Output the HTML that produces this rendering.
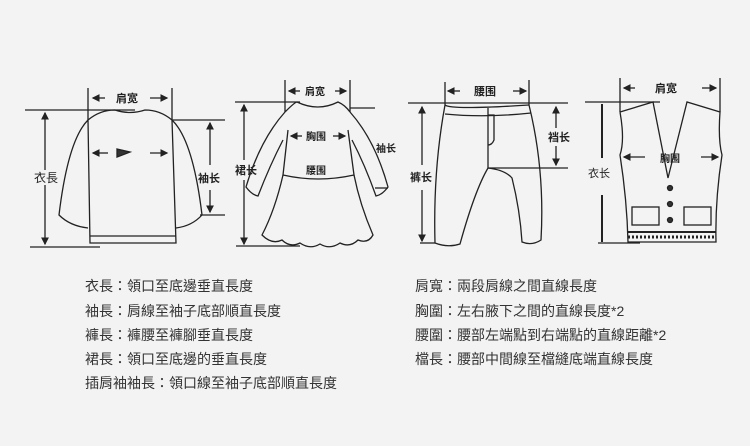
<!DOCTYPE html>
<html><head><meta charset="utf-8"><style>
html,body{margin:0;padding:0;background:#f3f3f3;}
body{width:750px;height:446px;position:relative;overflow:hidden;font-family:"Liberation Sans","Noto Sans CJK TC",sans-serif;}
.t{position:absolute;font-size:14px;color:#333;white-space:nowrap;line-height:16px;}
</style></head><body>
<svg width="750" height="446" style="position:absolute;left:0;top:0" fill="none" stroke="#222" stroke-width="1.3" font-family="Liberation Sans, Noto Sans CJK SC, sans-serif">
<defs><marker id="a" markerWidth="6" markerHeight="6" refX="5" refY="3" orient="auto"><path d="M0,0 L6,3 L0,6" fill="#222" stroke="none"/></marker></defs>
<!-- sweater -->
<g>
<line x1="25" y1="110" x2="135" y2="110"/><line x1="30" y1="247" x2="100" y2="247"/>
<line x1="88" y1="88" x2="88" y2="120"/><line x1="172" y1="88" x2="172" y2="120"/>
<line x1="105" y1="98" x2="93" y2="98" marker-end="url(#a)"/><line x1="150" y1="98" x2="167" y2="98" marker-end="url(#a)"/>
<text x="116" y="102" font-size="11" font-weight="bold" fill="#222" stroke="none">肩宽</text>
<line x1="45" y1="170" x2="45" y2="113" marker-end="url(#a)"/><line x1="45" y1="185" x2="45" y2="244" marker-end="url(#a)"/>
<text x="34" y="182" font-size="12" fill="#222" stroke="none">衣長</text>
<path d="M88,120 Q100,110 115,110 Q130,115 145,110 Q160,110 172,120 L176,243 L90,243 Z"/>
<path d="M90,236 L176,236"/>
<path d="M88,120 Q68,140 59,215 Q70,226 88,228"/>
<path d="M172,120 Q193,140 202,215 Q192,226 176,228"/>
<line x1="172" y1="120" x2="225" y2="120"/><line x1="200" y1="215" x2="225" y2="215"/>
<line x1="210" y1="165" x2="210" y2="123" marker-end="url(#a)"/><line x1="210" y1="190" x2="210" y2="212" marker-end="url(#a)"/>
<text x="198" y="182" font-size="11" font-weight="bold" fill="#222" stroke="none">袖长</text>
<line x1="108" y1="153" x2="93" y2="153" marker-end="url(#a)"/><line x1="150" y1="153" x2="167" y2="153" marker-end="url(#a)"/>
<path d="M117,149 L130,152 L117,157 Z" fill="#333"/>
</g>
<!-- dress -->
<g>
<line x1="235" y1="102" x2="300" y2="102"/><line x1="236" y1="246" x2="300" y2="246"/>
<line x1="285" y1="80" x2="285" y2="112"/><line x1="350" y1="80" x2="350" y2="112"/>
<line x1="300" y1="91" x2="289" y2="91" marker-end="url(#a)"/><line x1="335" y1="91" x2="346" y2="91" marker-end="url(#a)"/>
<text x="305" y="95" font-size="10" font-weight="bold" fill="#222" stroke="none">肩宽</text>
<line x1="244" y1="160" x2="244" y2="105" marker-end="url(#a)"/><line x1="244" y1="180" x2="244" y2="244" marker-end="url(#a)"/>
<text x="235" y="174" font-size="11" font-weight="bold" fill="#222" stroke="none">裙长</text>
<path d="M285,112 Q295,102 297,102 Q318,112 338,102 Q345,105 350,112"/>
<path d="M288,130 L283,175 Q318,183 354,175 L348,130"/>
<path d="M283,175 Q275,210 262,235 Q272,245 282,240 Q290,248 300,243 Q310,250 320,244 Q330,250 340,243 Q350,248 358,240 Q368,244 373,235 Q360,205 354,175"/>
<path d="M285,112 Q260,140 246,187 Q252,195 258,196 Q270,165 283,140"/>
<path d="M350,112 Q375,140 388,187 Q382,195 376,196 Q365,165 352,140"/>
<line x1="302" y1="136" x2="291" y2="136" marker-end="url(#a)"/><line x1="333" y1="136" x2="345" y2="136" marker-end="url(#a)"/>
<text x="306" y="140" font-size="10" font-weight="bold" fill="#222" stroke="none">胸围</text>
<text x="306" y="174" font-size="10" font-weight="bold" fill="#222" stroke="none">腰围</text>
<line x1="350" y1="108" x2="375" y2="108"/><line x1="375" y1="188" x2="388" y2="188"/>
<text x="376" y="152" font-size="10" font-weight="bold" fill="#222" stroke="none">袖长</text>
</g>
<!-- pants -->
<g>
<line x1="408" y1="103" x2="568" y2="103"/>
<line x1="445" y1="82" x2="445" y2="105"/><line x1="529" y1="80" x2="529" y2="105"/>
<line x1="460" y1="91" x2="448" y2="91" marker-end="url(#a)"/><line x1="513" y1="91" x2="526" y2="91" marker-end="url(#a)"/>
<text x="474" y="95" font-size="11" font-weight="bold" fill="#222" stroke="none">腰围</text>
<path d="M445,105 Q450,110 529,105 M445,114 Q485,118 531,113"/>
<path d="M445,105 Q433,170 435,243 Q448,248 460,244 Q475,190 488,168 Q505,170 512,178 Q520,210 522,242 Q532,246 541,240 Q545,170 529,105"/>
<line x1="488" y1="108" x2="488" y2="168"/><path d="M488,115 L494,115 L494,140 Q492,145 488,145"/>
<line x1="488" y1="168" x2="568" y2="168"/>
<line x1="556" y1="128" x2="556" y2="107" marker-end="url(#a)"/><line x1="556" y1="146" x2="556" y2="165" marker-end="url(#a)"/>
<text x="548" y="141" font-size="11" font-weight="bold" fill="#222" stroke="none">裆长</text>
<line x1="422" y1="165" x2="422" y2="107" marker-end="url(#a)"/><line x1="422" y1="190" x2="422" y2="241" marker-end="url(#a)"/>
<line x1="420" y1="243" x2="435" y2="243"/>
<text x="410" y="181" font-size="11" font-weight="bold" fill="#222" stroke="none">裤长</text>
</g>
<!-- vest -->
<g>
<line x1="585" y1="102" x2="660" y2="102"/><line x1="598" y1="243" x2="640" y2="243"/>
<line x1="620" y1="78" x2="620" y2="112"/><line x1="720" y1="78" x2="720" y2="112"/>
<line x1="635" y1="88" x2="624" y2="88" marker-end="url(#a)"/><line x1="702" y1="88" x2="716" y2="88" marker-end="url(#a)"/>
<text x="655" y="92" font-size="11" font-weight="bold" fill="#222" stroke="none">肩宽</text>
<line x1="602" y1="104" x2="602" y2="158" stroke-width="2"/><line x1="602" y1="195" x2="602" y2="242" stroke-width="2"/>
<text x="588" y="177" font-size="11" fill="#222" stroke="none">衣长</text>
<path d="M620,112 L653,102 L668,178 L687,102 L720,112 Q718,140 722,155 Q715,200 716,242 L628,242 Q627,200 620,155 Q625,140 620,112"/>
<path d="M628,232 L716,232" stroke-width="2"/><path d="M628,237 L716,237" stroke-dasharray="2 2" stroke-width="3"/>
<line x1="645" y1="157" x2="624" y2="157" marker-end="url(#a)"/><line x1="701" y1="157" x2="718" y2="157" marker-end="url(#a)"/>
<text x="660" y="162" font-size="10" font-weight="bold" fill="#222" stroke="none">胸围</text>
<rect x="632" y="207" width="27" height="18"/><rect x="684" y="207" width="27" height="18"/>
<circle cx="670" cy="188" r="2.5" fill="#333"/><circle cx="670" cy="204" r="2.5" fill="#333"/><circle cx="670" cy="220" r="2.5" fill="#333"/>
</g>
</svg>
<div class="t" style="left:85px;top:278px">衣長：領口至底邊垂直長度</div>
<div class="t" style="left:85px;top:303px">袖長：肩線至袖子底部順直長度</div>
<div class="t" style="left:85px;top:327px">褲長：褲腰至褲腳垂直長度</div>
<div class="t" style="left:85px;top:351px">裙長：領口至底邊的垂直長度</div>
<div class="t" style="left:85px;top:375px">插肩袖袖長：領口線至袖子底部順直長度</div>
<div class="t" style="left:415px;top:278px">肩寬：兩段肩線之間直線長度</div>
<div class="t" style="left:415px;top:303px">胸圍：左右腋下之間的直線長度*2</div>
<div class="t" style="left:415px;top:327px">腰圍：腰部左端點到右端點的直線距離*2</div>
<div class="t" style="left:415px;top:351px">檔長：腰部中間線至檔縫底端直線長度</div>
</body></html>
